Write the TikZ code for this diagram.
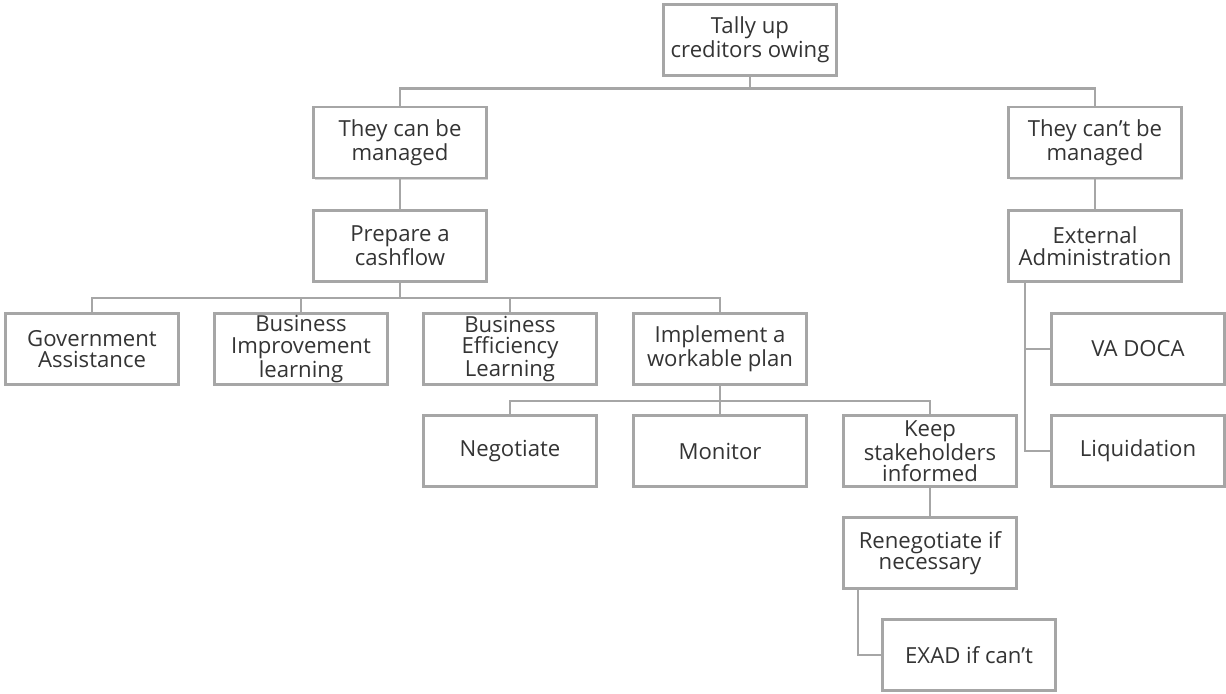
\documentclass[tikz,border=0pt]{standalone}
\usepackage{fontspec}
\setmainfont{Open Sans}
\usepackage{xcolor}
\usepackage{tikz}
\usetikzlibrary{positioning,calc,shadows}
\definecolor{boxgray}{RGB}{166,166,166}
\definecolor{shadegray}{RGB}{214,214,214}
\definecolor{textgray}{RGB}{52,52,52}

\begin{document}
\begin{tikzpicture}[
		box/.style={draw=boxgray, line width=1.3pt, fill=white, minimum width=3.46cm, minimum height=1.42cm,
			align=center, text=textgray, font=\fontsize{12.6}{12.2}\selectfont, inner sep=1pt,
			drop shadow={shadow xshift=0.9pt, shadow yshift=-0.9pt, fill=shadegray, opacity=1}},
		link/.style={draw=boxgray, line width=1.3pt}
		]
		
		% ===== khung =====
		\useasboundingbox (0,0) rectangle (24.52,-13.86);
		
		% ===== hàng 1 + 2 =====
		\node[box] (root) at (15.0,-0.8) {Tally up\\creditors owing};
		\node[box] (can) at (8.0,-2.85) {They can be\\managed};
		\node[box] (cant) at (21.9,-2.85) {They can't be\\managed};
		\node[box] (cash) at (8.0,-4.92) {Prepare a\\cashflow};
		\node[box] (ext) at (21.9,-4.92) {External\\Administration};
		
		% ===== hàng 3 =====
		\node[box] (gov) at (1.84,-6.98) {Government\\Assistance};
		\node[box] (bim) at (6.02,-6.98) {Business\\Improvement\\learning};
		\node[box] (bef) at (10.2,-6.98) {Business\\Efficiency\\Learning};
		\node[box] (impl) at (14.4,-6.98) {Implement a\\workable plan};
		\node[box] (vadoca) at (22.76,-6.98) {VA DOCA};
		
		% ===== hàng 4 =====
		\node[box] (neg) at (10.2,-9.02) {Negotiate};
		\node[box] (mon) at (14.4,-9.02) {Monitor};
		\node[box] (keep) at (18.6,-9.02) {Keep\\stakeholders\\informed};
		\node[box] (liq) at (22.76,-9.02) {Liquidation};
		
		% ===== hàng 5 + 6 =====
		\node[box] (reneg) at (18.6,-11.06) {Renegotiate if\\necessary};
		\node[box] (exad) at (19.38,-13.1) {EXAD if can't};
		
		% ===== đường nối =====
		\foreach \c in {can,cant}
			\draw[link] (root.south) -- +(0,-0.24) -| (\c.north);
		\draw[link] (can.south) -- (cash.north);
		\draw[link] (cant.south) -- (ext.north);
		\foreach \c in {gov,bim,bef,impl}
			\draw[link] (cash.south) -- +(0,-0.3) -| (\c.north);
		\foreach \c in {neg,mon,keep}
			\draw[link] (impl.south) -- +(0,-0.3) -| (\c.north);
		\draw[link] (keep.south) -- (reneg.north);
		\draw[link] ([xshift=-1.4cm]ext.south) |- (vadoca.west);
		\draw[link] ([xshift=-1.4cm]ext.south) |- (liq.west);
		\draw[link] ([xshift=-1.44cm]reneg.south) |- (exad.west);
		
	\end{tikzpicture}
\end{document}
